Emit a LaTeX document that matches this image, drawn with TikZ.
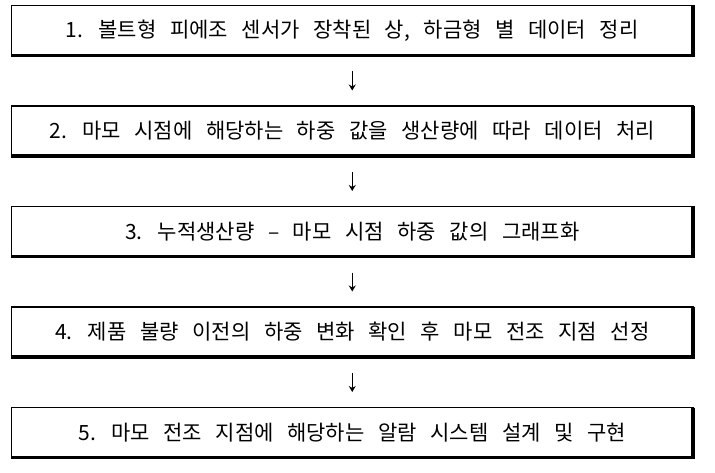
\documentclass[tikz,border=0pt]{standalone}
\usepackage{fontspec}
\newfontfamily\kr{Noto Sans CJK KR}[WordSpace=2.9]
\usetikzlibrary{arrows.meta}
\tikzset{
  stepbox/.style={minimum width=681.5pt, minimum height=50pt, inner sep=0pt, outer sep=0pt,
    font=\kr\fontsize{21pt}{24pt}\selectfont},
  thinborder/.style={line width=1.3pt, line cap=rect, line join=miter},
  thickborder/.style={line width=3.5pt, line join=miter},
  flowarrow/.style={line width=1pt, -{Stealth[length=6pt,width=7pt]}, shorten <=16pt, shorten >=15.5pt}
}
\begin{document}
\begin{tikzpicture}[x=1pt,y=-1pt]
\useasboundingbox[fill=white] (0,0) rectangle (715,473);
\node[stepbox] (s1) at (352.25,30.5) {1. 볼트형 피에조 센서가 장착된 상, 하금형 별 데이터 정리};
\node[stepbox] (s2) at (352.25,131) {2. 마모 시점에 해당하는 하중 값을 생산량에 따라 데이터 처리};
\node[stepbox] (s3) at (352.25,231.5) {3. 누적생산량 – 마모 시점 하중 값의 그래프화};
\node[stepbox] (s4) at (352.25,332) {4. 제품 불량 이전의 하중 변화 확인 후 마모 전조 지점 선정};
\node[stepbox] (s5) at (352.25,432.5) {5. 마모 전조 지점에 해당하는 알람 시스템 설계 및 구현};
\foreach \n in {s1,s2,s3,s4,s5} {
  \draw[thinborder] (\n.south west) -- (\n.north west) -- (\n.north east);
  \draw[thickborder] (\n.north east) -- (\n.south east) -- ([xshift=-0.6pt]\n.south west);
}
\draw[flowarrow] (s1) -- (s2);
\draw[flowarrow] (s2) -- (s3);
\draw[flowarrow] (s3) -- (s4);
\draw[flowarrow] (s4) -- (s5);
\end{tikzpicture}
\end{document}
